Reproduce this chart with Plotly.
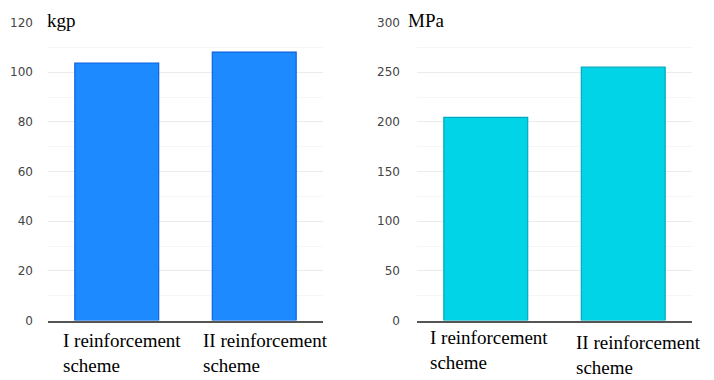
import plotly.graph_objects as go

categories = ["I reinforcement scheme", "II reinforcement scheme"]
force_kgp = [103.7, 108.1]
stress_mpa = [204.4, 255.0]
left_title = "kgp"
right_title = "MPa"
left_ticks = [0, 20, 40, 60, 80, 100, 120]
right_ticks = [0, 50, 100, 150, 200, 250, 300]

W, H = 714, 380
fig = go.Figure()

fig.add_trace(go.Bar(x=categories, y=force_kgp, xaxis="x", yaxis="y",
                     marker=dict(color="#1e8aff", line=dict(color="#0b63e0", width=1.2)),
                     width=0.61, showlegend=False))
fig.add_trace(go.Bar(x=categories, y=stress_mpa, xaxis="x2", yaxis="y2",
                     marker=dict(color="#00d4e6", line=dict(color="#00a9bd", width=1.2)),
                     width=0.61, showlegend=False))

dom_l = [48 / W, 323 / W]
dom_r = [417 / W, 692 / W]
dom_y = [1 - 320.5 / H, 1 - 22.5 / H]

tickfont = dict(family="DejaVu Sans", size=12, color="#444444")
xcommon = dict(showticklabels=False, showgrid=False, showline=True, linecolor="#555555",
               linewidth=1.5, ticks="", zeroline=False, fixedrange=True, automargin=False,
               range=[-0.5, 1.5])
fig.update_layout(
    width=W, height=H, margin=dict(l=0, r=0, t=0, b=0, autoexpand=False),
    paper_bgcolor="white", plot_bgcolor="white",
    xaxis=dict(domain=dom_l, anchor="y", **xcommon),
    xaxis2=dict(domain=dom_r, anchor="y2", **xcommon),
    yaxis=dict(domain=dom_y, anchor="x", range=[0, 120], tickvals=left_ticks,
               gridcolor="#ebebeb", gridwidth=1, zeroline=False, tickfont=tickfont,
               ticklabelstandoff=14, ticks="", automargin=False,
               minor=dict(dtick=10, showgrid=True, gridcolor="#f6f6f6", ticks="")),
    yaxis2=dict(domain=dom_y, anchor="x2", range=[0, 300], tickvals=right_ticks,
                gridcolor="#ebebeb", gridwidth=1, zeroline=False, tickfont=tickfont,
                ticklabelstandoff=16, ticks="", automargin=False,
                minor=dict(dtick=25, showgrid=True, gridcolor="#f6f6f6", ticks="")),
)

serif = dict(family="Liberation Serif", size=19, color="#000000")

# white gap in top gridline behind axis titles
fig.add_shape(type="rect", xref="paper", yref="y", x0=dom_l[0], x1=95 / W, y0=117, y1=123,
              fillcolor="white", line=dict(width=0), layer="below")
fig.add_shape(type="rect", xref="paper", yref="y2", x0=dom_r[0], x1=468 / W, y0=292, y1=308,
              fillcolor="white", line=dict(width=0), layer="below")

fig.add_annotation(text=left_title, xref="paper", yref="y", x=45 / W, y=120,
                   xanchor="left", yanchor="middle", showarrow=False, font=serif, yshift=2)
fig.add_annotation(text=right_title, xref="paper", yref="y2", x=406 / W, y=300,
                   xanchor="left", yanchor="middle", showarrow=False, font=serif, yshift=2)

def fmt(label):
    words = label.split(" ")
    return " ".join(words[:-1]) + "<br>" + words[-1]

left_shift = [-56, -53]
right_shift = [-58, -49]
left_y = [1 - 353.4 / H, 1 - 353.4 / H]
right_y = [1 - 349.9 / H, 1 - 354.9 / H]
for i, c in enumerate(categories):
    fig.add_annotation(text=fmt(c), xref="x", yref="paper", x=c, y=left_y[i],
                       xanchor="left", yanchor="middle", align="left", xshift=left_shift[i],
                       showarrow=False, font=serif)
    fig.add_annotation(text=fmt(c), xref="x2", yref="paper", x=c, y=right_y[i],
                       xanchor="left", yanchor="middle", align="left", xshift=right_shift[i],
                       showarrow=False, font=serif)

fig.write_html("out.html", config={"responsive": False, "displayModeBar": False},
               post_script="document.body.style.margin='0px';document.body.style.overflow='hidden';")
